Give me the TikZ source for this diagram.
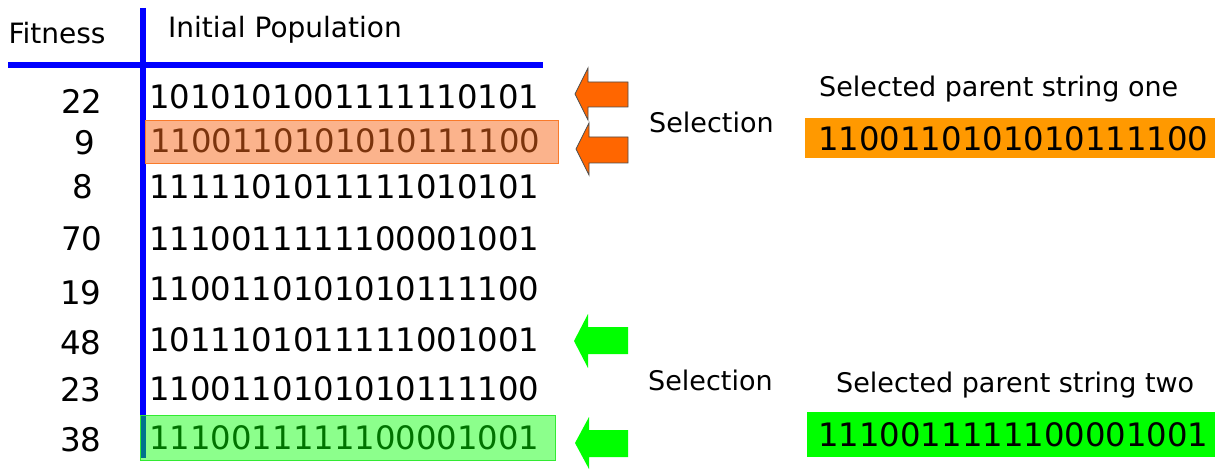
\documentclass[tikz,border=0pt]{standalone}
\usepackage{fontspec}
\setmainfont{DejaVu Sans}
\definecolor{hblue}{RGB}{0,0,255}
\definecolor{oarrow}{RGB}{255,102,0}
\definecolor{obox}{RGB}{247,104,26}
\definecolor{oborder}{RGB}{249,122,42}
\definecolor{selorange}{RGB}{255,153,0}
\definecolor{selgreen}{RGB}{0,255,0}
\definecolor{gborder}{RGB}{50,235,50}
\begin{document}
\begin{tikzpicture}[x=1pt,y=-1pt,
  hdr/.style={font=\fontsize{28}{28}\selectfont, inner sep=0},
  bits/.style={font=\fontsize{32.3}{32.3}\selectfont, inner sep=0, anchor=west},
  fit/.style={font=\fontsize{32.5}{32.5}\selectfont, inner sep=0},
  lbl/.style={font=\fontsize{27}{27}\selectfont, inner sep=0},
  axis/.style={hblue, line width=6.5pt},
  oarrowstyle/.style={fill=oarrow, draw=black!70, line width=0.8pt},
  garrowstyle/.style={fill=selgreen}]
\useasboundingbox (0,0) rectangle (1215,470);
% axes
\coordinate (vt) at (143,8);
\coordinate (vb) at (143,458);
\coordinate (hl) at (8,65);
\coordinate (hr) at (543,65);
\draw[axis] (vt) -- (vb);
\draw[axis] (hl) -- (hr);
% headers
\node[hdr] (fith) at (57,33) {Fitness};
\node[hdr, anchor=west] (poph) at (168,30) {Initial Population};
% fitness values
\node[fit] (f1) at (82,101) {22};
\node[fit] (f2) at (85,143) {9};
\node[fit] (f3) at (83,187) {8};
\node[fit] (f4) at (82,239) {70};
\node[fit] (f5) at (81,293) {19};
\node[fit] (f6) at (81,343) {48};
\node[fit] (f7) at (81,390) {23};
\node[fit] (f8) at (81,440) {38};
% strings
\node[bits] (s1) at (149,97) {1010101001111110101};
\node[bits] (s2) at (150,141) {1100110101010111100};
\node[bits] (s3) at (149,187) {1111101011111010101};
\node[bits] (s4) at (149,239) {1110011111100001001};
\node[bits] (s5) at (149,289) {1100110101010111100};
\node[bits] (s6) at (149,340) {1011101011111001001};
\node[bits] (s7) at (149,389) {1100110101010111100};
\node[bits] (s8) at (149,438) {1110011111100001001};
% highlight boxes
\node[draw=oborder, fill=obox, fill opacity=0.5, line width=1pt, inner sep=0,
  minimum width=413, minimum height=43, anchor=north west] (hb1) at (145,120) {};
\node[draw=gborder, fill=selgreen, fill opacity=0.45, line width=1pt, inner sep=0,
  minimum width=415, minimum height=45, anchor=north west] (hb2) at (140,415) {};
% orange arrows
\draw[oarrowstyle] (575,94) -- (588,68) -- (588,82) -- (628,82) -- (628,107) -- (588,107) -- (588,120) -- cycle;
\draw[oarrowstyle] (576,149) -- (589,123) -- (589,137) -- (628,137) -- (628,163) -- (589,163) -- (589,175) -- cycle;
% green arrows
\fill[garrowstyle] (574,341) -- (588,314) -- (588,327) -- (628,327) -- (628,354) -- (588,354) -- (588,368) -- cycle;
\fill[garrowstyle] (575,443) -- (589,417) -- (589,430) -- (628,430) -- (628,457) -- (589,457) -- (589,469) -- cycle;
% selection labels
\node[lbl, anchor=west] (sel1) at (649,122) {Selection};
\node[lbl, anchor=west] (sel2) at (648,380) {Selection};
% selected parents
\node[lbl, anchor=west] (p1l) at (819,89) {Selected parent string one};
\node[fill=selorange, inner sep=0, minimum width=410, minimum height=40, anchor=north west] (p1b) at (805,118) {};
\node[bits] (p1) at (818,139) {1100110101010111100};
\node[lbl, anchor=west] (p2l) at (836,385) {Selected parent string two};
\node[fill=selgreen, inner sep=0, minimum width=408, minimum height=45, anchor=north west] (p2b) at (807,412) {};
\node[bits] (p2) at (818,435) {1110011111100001001};
\end{tikzpicture}
\end{document}
